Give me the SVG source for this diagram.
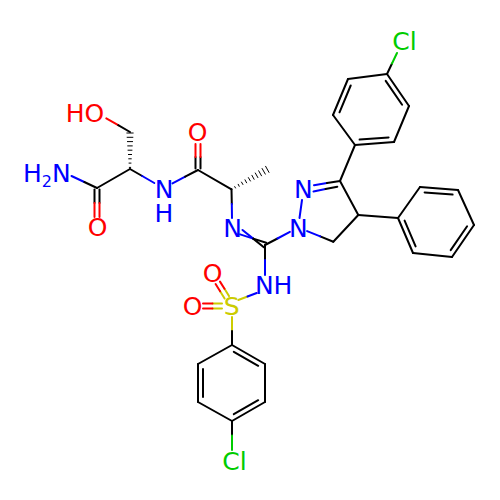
<svg xmlns="http://www.w3.org/2000/svg" width="500" height="500" viewBox="0 0 500 500">
<style>
line{stroke-width:2;stroke-linecap:round}
.k{stroke:#000}
.n{stroke:#0000FF}
.o{stroke:#FF0000}
.s{stroke:#CCCC00}
.c{stroke:#00CC00}
.h line{stroke:#000;stroke-width:1}
text{font-family:"DejaVu Sans","Liberation Sans",sans-serif;font-size:25px}
.tn{fill:#0000FF}
.to{fill:#FF0000}
.ts{fill:#CCCC00}
.tc{fill:#00CC00}
</style>
<rect width="500" height="500" fill="#fff"/>
<g id="bonds">
<line class="o" x1="106.3" y1="118.4" x2="118.2" y2="125.2"/><line class="k" x1="118.2" y1="125.2" x2="130" y2="132"/>
<g class="h">
<line x1="126.8" y1="133" x2="133.2" y2="133"/><line x1="127.1" y1="137.3" x2="132.9" y2="137.3"/><line x1="127.4" y1="141.6" x2="132.6" y2="141.6"/><line x1="127.7" y1="145.9" x2="132.3" y2="145.9"/><line x1="128" y1="150.2" x2="132" y2="150.2"/><line x1="128.4" y1="154.5" x2="131.6" y2="154.5"/><line x1="128.7" y1="158.8" x2="131.3" y2="158.8"/><line x1="129" y1="163.1" x2="131" y2="163.1"/><line x1="129.3" y1="167.4" x2="130.7" y2="167.4"/>
</g>
<line class="k" x1="130" y1="169" x2="97" y2="188"/>
<line class="k" x1="94.5" y1="189.5" x2="94.5" y2="203"/><line class="o" x1="94.5" y1="203" x2="94.5" y2="217"/>
<line class="k" x1="99.5" y1="189.5" x2="99.5" y2="203"/><line class="o" x1="99.5" y1="203" x2="99.5" y2="217"/>
<line class="n" x1="71.5" y1="176" x2="84.3" y2="182"/><line class="k" x1="84.3" y1="182" x2="97" y2="188"/>
<line class="k" x1="130" y1="169" x2="142.2" y2="176"/><line class="n" x1="142.2" y1="176" x2="154.3" y2="183"/>
<line class="n" x1="172.5" y1="183.4" x2="185.2" y2="176.7"/><line class="k" x1="185.2" y1="176.7" x2="198" y2="170"/>
<line class="k" x1="195.5" y1="168.5" x2="195.5" y2="157"/><line class="o" x1="195.5" y1="157" x2="195.5" y2="144"/>
<line class="k" x1="200.5" y1="168.5" x2="200.5" y2="157"/><line class="o" x1="200.5" y1="157" x2="200.5" y2="144"/>
<line class="k" x1="198" y1="170" x2="231.5" y2="189.3"/>
<g class="h">
<line x1="234.7" y1="186.6" x2="235.5" y2="188"/><line x1="238.2" y1="184.3" x2="239.2" y2="186.3"/><line x1="241.5" y1="182.1" x2="242.9" y2="184.5"/><line x1="245" y1="179.8" x2="246.6" y2="182.8"/><line x1="248.4" y1="177.6" x2="250.4" y2="181"/><line x1="251.9" y1="175.3" x2="254.1" y2="179.3"/><line x1="255.3" y1="173" x2="257.9" y2="177.6"/><line x1="258.7" y1="170.8" x2="261.5" y2="175.8"/><line x1="262.1" y1="168.5" x2="265.3" y2="174.1"/><line x1="265.6" y1="166.3" x2="269" y2="172.4"/>
</g>
<line class="k" x1="231.5" y1="189.3" x2="231.8" y2="204"/><line class="n" x1="231.8" y1="204" x2="232" y2="218"/>
<line class="n" x1="240.1" y1="234.4" x2="253.2" y2="238.6"/><line class="k" x1="253.2" y1="238.6" x2="266.2" y2="242.8"/>
<line class="n" x1="242.5" y1="230" x2="253.2" y2="238.6"/><line class="k" x1="253.2" y1="238.6" x2="263.8" y2="247.2"/>
<line class="k" x1="265" y1="245" x2="277.5" y2="238.5"/><line class="n" x1="277.5" y1="238.5" x2="289.9" y2="231.9"/>
<line class="n" x1="299.5" y1="218" x2="302" y2="200"/>
<line class="n" x1="314" y1="185.2" x2="327" y2="183"/><line class="k" x1="327" y1="183" x2="340" y2="181"/>
<line class="n" x1="313.5" y1="191.5" x2="325.5" y2="189"/><line class="k" x1="325.5" y1="189" x2="337.3" y2="186.7"/>
<line class="k" x1="340" y1="181" x2="358.3" y2="215"/>
<line class="k" x1="358.3" y1="215" x2="333.3" y2="241.7"/>
<line class="k" x1="333.3" y1="241.7" x2="320.2" y2="236.4"/><line class="n" x1="320.2" y1="236.4" x2="307.1" y2="231.1"/>
<line class="k" x1="340" y1="181" x2="355" y2="145"/>
<line class="k" x1="358.3" y1="215" x2="398" y2="218"/>
<line class="k" x1="355" y1="145" x2="333" y2="115"/><line class="k" x1="333" y1="115" x2="348" y2="79"/><line class="k" x1="348" y1="79" x2="387" y2="74"/><line class="k" x1="387" y1="74" x2="409" y2="106"/><line class="k" x1="409" y1="106" x2="394" y2="142"/><line class="k" x1="394" y1="142" x2="355" y2="145"/>
<line class="k" x1="339.5" y1="112.3" x2="350.7" y2="85.5"/><line class="k" x1="385.7" y1="80.9" x2="402.1" y2="104.7"/><line class="k" x1="388.6" y1="137.4" x2="359.6" y2="139.6"/>
<line class="k" x1="387" y1="74" x2="392" y2="63.5"/><line class="c" x1="392" y1="63.5" x2="397" y2="53"/>
<line class="k" x1="398" y1="218" x2="420" y2="187"/><line class="k" x1="420" y1="187" x2="458" y2="190"/><line class="k" x1="458" y1="190" x2="474" y2="225"/><line class="k" x1="474" y1="225" x2="452" y2="257"/><line class="k" x1="452" y1="257" x2="413" y2="253"/><line class="k" x1="413" y1="253" x2="398" y2="218"/>
<line class="k" x1="424.6" y1="192.4" x2="452.6" y2="194.6"/><line class="k" x1="467.1" y1="226.3" x2="450.7" y2="250.1"/><line class="k" x1="415.6" y1="246.4" x2="404.6" y2="220.6"/>
<line class="k" x1="265" y1="245" x2="265" y2="260"/><line class="n" x1="265" y1="260" x2="265" y2="275"/>
<line class="s" x1="238.3" y1="300" x2="247.5" y2="296.5"/><line class="n" x1="247.5" y1="296.5" x2="256.7" y2="293"/>
<line class="s" x1="229" y1="296.1" x2="224.5" y2="288.8"/><line class="o" x1="224.5" y1="288.8" x2="220" y2="281.6"/>
<line class="s" x1="224.6" y1="298.5" x2="220.1" y2="291.2"/><line class="o" x1="220.1" y1="291.2" x2="215.6" y2="284"/>
<line class="s" x1="222" y1="303.5" x2="212.5" y2="303.5"/><line class="o" x1="212.5" y1="303.5" x2="203" y2="303.5"/>
<line class="s" x1="222" y1="308.5" x2="212.5" y2="308.5"/><line class="o" x1="212.5" y1="308.5" x2="203" y2="308.5"/>
<line class="s" x1="232" y1="317" x2="232" y2="331"/><line class="k" x1="232" y1="331" x2="232" y2="345"/>
<line class="k" x1="232" y1="345" x2="198" y2="364"/><line class="k" x1="198" y1="364" x2="198" y2="402"/><line class="k" x1="198" y1="402" x2="232" y2="421"/><line class="k" x1="232" y1="421" x2="265" y2="402"/><line class="k" x1="265" y1="402" x2="265" y2="364"/><line class="k" x1="265" y1="364" x2="232" y2="345"/>
<line class="k" x1="233.8" y1="351.8" x2="258.2" y2="365.8"/><line class="k" x1="203" y1="369" x2="203" y2="397"/><line class="k" x1="233.8" y1="414.2" x2="258.2" y2="400.2"/>
<line class="k" x1="232" y1="421" x2="232" y2="435.5"/><line class="c" x1="232" y1="435.5" x2="232" y2="450"/>
</g>
<g id="OH"><text class="to" x="104.3" y="121.5" text-anchor="end">HO</text></g>
<g id="NH2"><text class="tn" x="23" y="181.7">H<tspan font-size="16" dy="5.3">2</tspan><tspan dy="-5.3">N</tspan></text></g>
<g id="O1"><text class="to" x="97.5" y="235.5" text-anchor="middle">O</text></g>
<g id="NH1"><text class="tn" text-anchor="middle"><tspan x="164" y="198">N</tspan><tspan x="164" y="221.7">H</tspan></text></g>
<g id="O2"><text class="to" x="197.5" y="141.3" text-anchor="middle">O</text></g>
<g id="N3"><text class="tn" x="232.5" y="236.5" text-anchor="middle">N</text></g>
<g id="N4"><text class="tn" x="298.3" y="236.5" text-anchor="middle">N</text></g>
<g id="N5"><text class="tn" x="303.3" y="198" text-anchor="middle">N</text></g>
<g id="Cl1"><text class="tc" x="392.2" y="50">Cl</text></g>
<g id="NH6"><text class="tn" x="254.9" y="294">NH</text></g>
<g id="S"><text class="ts" x="231.7" y="315" text-anchor="middle">S</text></g>
<g id="O3"><text class="to" x="212.5" y="281.5" text-anchor="middle">O</text></g>
<g id="O4"><text class="to" x="192.5" y="315" text-anchor="middle">O</text></g>
<g id="Cl2"><text class="tc" x="222.2" y="470">Cl</text></g>
</svg>
